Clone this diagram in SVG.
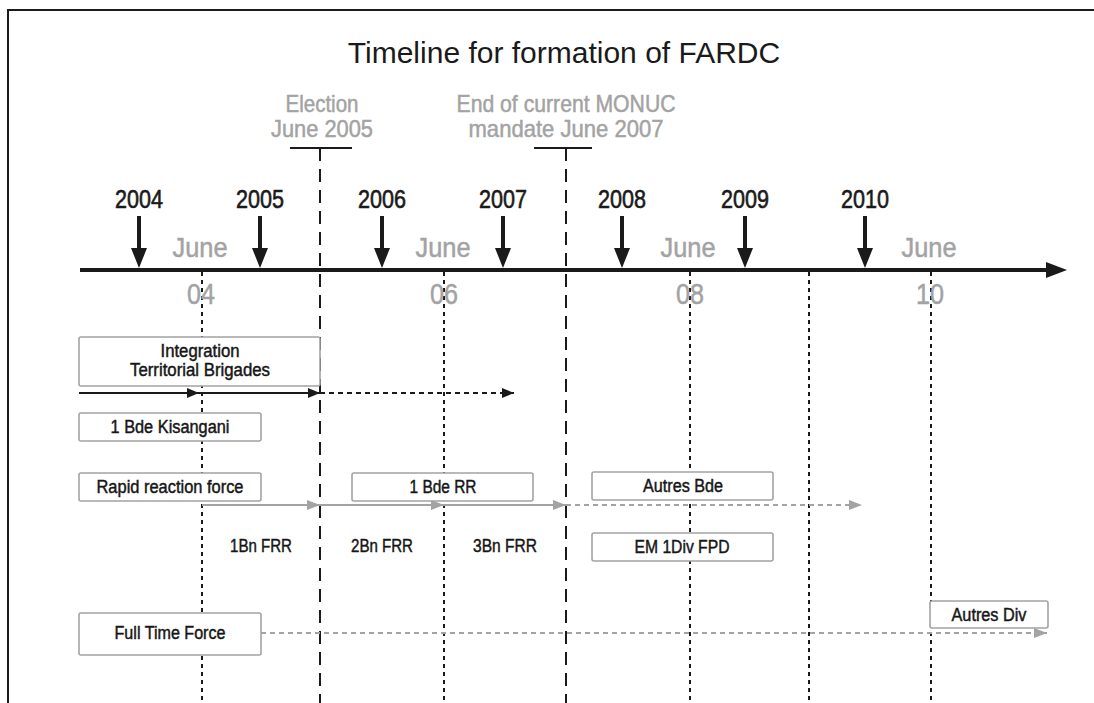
<svg xmlns="http://www.w3.org/2000/svg" width="1094" height="703" viewBox="0 0 1094 703">
<defs>
<style>
text{font-family:"Liberation Sans",Arial,sans-serif;}
.year{font-size:25px;fill:#1a1a1a;stroke:#1a1a1a;stroke-width:0.6;text-anchor:middle;}
.gray{fill:#a3a3a3;stroke:#a3a3a3;stroke-width:0.5;text-anchor:middle;}
.june{font-size:28px;}
.num{font-size:29px;}
.evt{font-size:24px;}
.box rect{fill:#fff;stroke:#a3a3a3;stroke-width:1.6;}
.box text{font-size:18px;fill:#161616;stroke:#161616;stroke-width:0.45;text-anchor:middle;}
.lbl{font-size:18px;fill:#161616;stroke:#161616;stroke-width:0.45;text-anchor:middle;}
.dot{stroke:#1a1a1a;stroke-width:2;stroke-dasharray:4 4;fill:none;}
.dash{stroke:#1a1a1a;stroke-width:2;stroke-dasharray:13 8;fill:none;}
.blk{stroke:#1a1a1a;stroke-width:2;fill:none;}
.gry{stroke:#a3a3a3;stroke-width:2.2;fill:none;}
.gdash{stroke:#a3a3a3;stroke-width:2;stroke-dasharray:5 4;fill:none;}
</style>
<marker id="ab" markerUnits="userSpaceOnUse" markerWidth="14" markerHeight="12" refX="12" refY="5" orient="auto"><path d="M0,0 L12,5 L0,10 Z" fill="#1a1a1a"/></marker>
<marker id="ag" markerUnits="userSpaceOnUse" markerWidth="16" markerHeight="12" refX="13" refY="5" orient="auto"><path d="M0,0 L13,5 L0,10 Z" fill="#a3a3a3"/></marker>
</defs>
<rect width="1094" height="703" fill="#fff"/>
<path d="M8,703 V10 H1094" fill="none" stroke="#1a1a1a" stroke-width="2"/>
<text x="564" y="63" font-size="30" fill="#1a1a1a" text-anchor="middle">Timeline for formation of FARDC</text>

<g id="events">
<text class="gray evt" x="322" y="112" textLength="73" lengthAdjust="spacingAndGlyphs">Election</text>
<text class="gray evt" x="322" y="137" textLength="102" lengthAdjust="spacingAndGlyphs">June 2005</text>
<text class="gray evt" x="566" y="112" textLength="219" lengthAdjust="spacingAndGlyphs">End of current MONUC</text>
<text class="gray evt" x="566" y="137" textLength="195" lengthAdjust="spacingAndGlyphs">mandate June 2007</text>
<path class="blk" d="M290,148 H352 M534,148 H592"/>
</g>

<g id="gridlines">
<path class="dash" d="M320,148 V703 M566,148 V703"/>
<path class="dot" d="M202,272 V703 M444,272 V703 M690,272 V703 M809,272 V703 M931,272 V703"/>
</g>

<g id="axis">
<path d="M80,270 H1050" stroke="#1a1a1a" stroke-width="4"/>
<path d="M1046,262 L1067,270 L1046,278 Z" fill="#1a1a1a"/>
<text class="gray june" x="200" y="257" textLength="55" lengthAdjust="spacingAndGlyphs">June</text>
<text class="gray june" x="443" y="257" textLength="55" lengthAdjust="spacingAndGlyphs">June</text>
<text class="gray june" x="688" y="257" textLength="55" lengthAdjust="spacingAndGlyphs">June</text>
<text class="gray june" x="929" y="257" textLength="55" lengthAdjust="spacingAndGlyphs">June</text>
<text class="gray num" x="201" y="304" textLength="28" lengthAdjust="spacingAndGlyphs">04</text>
<text class="gray num" x="444" y="304" textLength="28" lengthAdjust="spacingAndGlyphs">06</text>
<text class="gray num" x="690" y="304" textLength="28" lengthAdjust="spacingAndGlyphs">08</text>
<text class="gray num" x="930" y="304" textLength="28" lengthAdjust="spacingAndGlyphs">10</text>
</g>

<g id="years">
<g fill="#1a1a1a">
<path d="M137,216 h4 v32 h6 l-8,20 l-8,-20 h6 Z"/>
<path d="M258,216 h4 v32 h6 l-8,20 l-8,-20 h6 Z"/>
<path d="M380,216 h4 v32 h6 l-8,20 l-8,-20 h6 Z"/>
<path d="M501,216 h4 v32 h6 l-8,20 l-8,-20 h6 Z"/>
<path d="M620,216 h4 v32 h6 l-8,20 l-8,-20 h6 Z"/>
<path d="M743,216 h4 v32 h6 l-8,20 l-8,-20 h6 Z"/>
<path d="M863,216 h4 v32 h6 l-8,20 l-8,-20 h6 Z"/>
</g>
<text class="year" x="139" y="208" textLength="48" lengthAdjust="spacingAndGlyphs">2004</text>
<text class="year" x="260" y="208" textLength="48" lengthAdjust="spacingAndGlyphs">2005</text>
<text class="year" x="382" y="208" textLength="48" lengthAdjust="spacingAndGlyphs">2006</text>
<text class="year" x="503" y="208" textLength="48" lengthAdjust="spacingAndGlyphs">2007</text>
<text class="year" x="622" y="208" textLength="48" lengthAdjust="spacingAndGlyphs">2008</text>
<text class="year" x="745" y="208" textLength="48" lengthAdjust="spacingAndGlyphs">2009</text>
<text class="year" x="865" y="208" textLength="48" lengthAdjust="spacingAndGlyphs">2010</text>
</g>

<g id="connectors">
<path class="blk" d="M79,393 H199" marker-end="url(#ab)"/>
<path class="blk" d="M199,393 H320" marker-end="url(#ab)"/>
<path class="blk" d="M320,393 H514" stroke-dasharray="5 4" marker-end="url(#ab)"/>
<path class="gry" d="M202,505 H320" marker-end="url(#ag)"/>
<path class="gry" d="M320,505 H444" marker-end="url(#ag)"/>
<path class="gry" d="M444,505 H566" marker-end="url(#ag)"/>
<path class="gdash" d="M566,505 H862" marker-end="url(#ag)"/>
<path class="gdash" d="M261,633 H1047" marker-end="url(#ag)"/>
</g>

<g id="n-integration" class="box"><rect x="79" y="337" width="241" height="49" rx="2"/><text x="200" y="357" textLength="79" lengthAdjust="spacingAndGlyphs">Integration</text><text x="200" y="376" textLength="140" lengthAdjust="spacingAndGlyphs">Territorial Brigades</text></g>
<g id="n-kisangani" class="box"><rect x="79" y="413" width="182" height="28" rx="2"/><text x="170" y="433" textLength="119" lengthAdjust="spacingAndGlyphs">1 Bde Kisangani</text></g>
<g id="n-rrf" class="box"><rect x="79" y="473" width="182" height="28" rx="2"/><text x="170" y="493" textLength="147" lengthAdjust="spacingAndGlyphs">Rapid reaction force</text></g>
<g id="n-bderr" class="box"><rect x="352" y="473" width="181" height="28" rx="2"/><text x="443" y="493" textLength="67" lengthAdjust="spacingAndGlyphs">1 Bde RR</text></g>
<g id="n-autresbde" class="box"><rect x="592" y="472" width="181" height="28" rx="2"/><text x="683" y="492" textLength="80" lengthAdjust="spacingAndGlyphs">Autres Bde</text></g>
<g id="n-em1div" class="box"><rect x="592" y="533" width="181" height="28" rx="2"/><text x="682" y="553" textLength="95" lengthAdjust="spacingAndGlyphs">EM 1Div FPD</text></g>
<g id="n-fulltime" class="box"><rect x="79" y="613" width="182" height="42" rx="2"/><text x="170" y="639" textLength="111" lengthAdjust="spacingAndGlyphs">Full Time Force</text></g>
<g id="n-autresdiv" class="box"><rect x="930" y="601" width="118" height="27" rx="2"/><text x="989" y="621" textLength="75" lengthAdjust="spacingAndGlyphs">Autres Div</text></g>

<g id="bn-labels">
<text class="lbl" x="261" y="552" textLength="62" lengthAdjust="spacingAndGlyphs">1Bn FRR</text>
<text class="lbl" x="382" y="552" textLength="62" lengthAdjust="spacingAndGlyphs">2Bn FRR</text>
<text class="lbl" x="505" y="552" textLength="64" lengthAdjust="spacingAndGlyphs">3Bn FRR</text>
</g>
</svg>
